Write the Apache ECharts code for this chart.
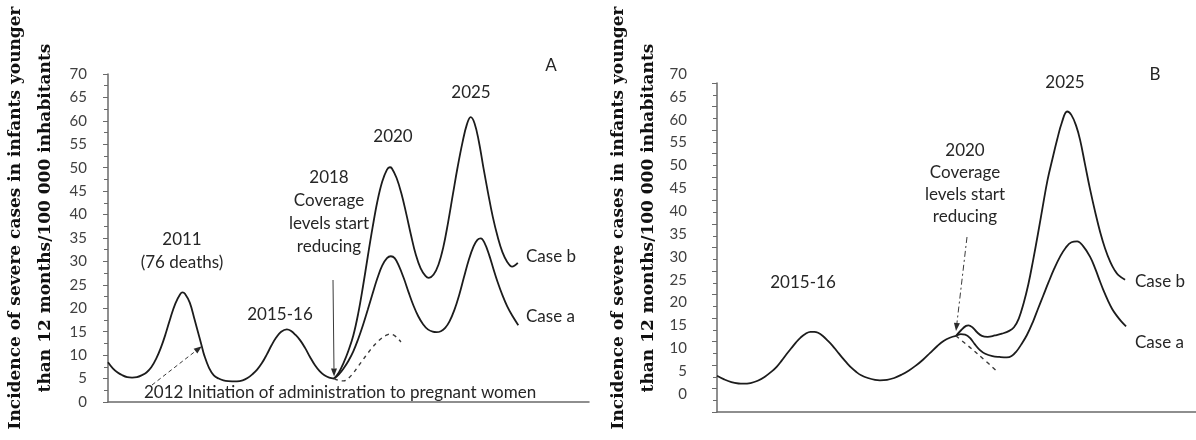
<!DOCTYPE html>
<html>
<head>
<meta charset="utf-8">
<script src="https://cdn.jsdelivr.net/npm/echarts@6/dist/echarts.min.js"></script>
<style>
  html, body { margin: 0; padding: 0; background: #ffffff; }
  #chart { width: 1196px; height: 440px; }
</style>
</head>
<body>
<div id="chart"></div>
<script>
// ---- Panel A: epidemic cycles, coverage drop from 2018 ----
// time runs along a hidden 0–100 scale; values are cases per 100 000
const aBaseT = [0, 1, 2, 3, 4, 5, 6, 7, 8, 9, 10, 11, 12, 13, 14, 15, 15.5, 16, 17, 18, 19, 19.5, 20, 21, 22, 23, 24, 25, 26.8,
                28, 29, 30, 31, 32, 33, 34, 35, 36, 37.2, 38, 39, 40, 41, 42, 43, 44, 45, 46, 47];
const aBaseV = [8.5, 7.2, 6.3, 5.7, 5.3, 5.2, 5.3, 5.7, 6.3, 7.4, 9.2, 11.6, 14.6, 18.0, 21.0, 23.0, 23.4, 23.1, 21.2, 17.6, 13.8, 11.9, 10.0, 7.3, 5.7, 5.0, 4.6, 4.45, 4.4,
                4.6, 5.1, 5.9, 6.9, 8.3, 10.1, 12.1, 13.8, 15.0, 15.5, 15.2, 14.3, 13.1, 11.5, 9.6, 7.9, 6.6, 5.7, 5.2, 5.0];

const aCaseBT = [47, 48, 49, 50, 51, 52, 53, 54, 55, 56, 57, 58, 58.6, 59, 60, 61, 62, 63, 64, 65, 66, 66.7,
                 67.7, 68.7, 69.7, 70.7, 71.7, 72.7, 73.7, 74.6, 75.4, 76.2, 77.1, 78.0, 79.0, 80.0, 81.0, 82.0, 83.0, 84.0, 85.2];
const aCaseBV = [5.0, 6.3, 8.4, 11.0, 14.2, 18.8, 24.6, 31.0, 37.2, 42.8, 47.0, 49.6, 50.1, 49.9, 47.8, 44.5, 40.2, 35.6, 31.4, 28.5, 26.9, 26.5,
                 27.2, 29.3, 33.0, 38.3, 44.3, 50.2, 55.4, 59.2, 60.8, 59.5, 55.6, 50.3, 44.7, 39.5, 35.3, 32.0, 29.9, 28.9, 29.7];

const aCaseAT = [47, 48, 49, 50, 51, 52, 53, 54, 55, 56, 57, 58, 58.8, 59.6, 60.5, 61.5, 62.5, 63.5, 64.5, 65.5, 66.5, 67.5, 68.3,
                 69.2, 70.1, 71.0, 72.0, 73.0, 74.0, 75.0, 76.0, 76.8, 77.5, 78.3, 79.2, 80.1, 81.0, 82.0, 83.0, 84.0, 85.3];
const aCaseAV = [5.0, 5.9, 7.2, 8.8, 10.8, 13.4, 16.4, 19.7, 23.1, 26.4, 29.1, 30.7, 31.1, 30.7, 29.0, 26.4, 23.4, 20.6, 18.3, 16.6, 15.5, 15.0, 14.9,
                 15.1, 15.8, 17.2, 19.6, 22.8, 26.6, 30.3, 33.2, 34.6, 34.9, 33.9, 31.5, 28.5, 25.6, 22.8, 20.4, 18.5, 16.4];

const aKeptT = [47, 48, 49, 50, 51, 52, 53, 54, 55, 56, 57, 58, 58.6, 59.5, 60.3, 60.9];
const aKeptV = [5.0, 4.6, 4.5, 5.1, 6.2, 7.6, 9.0, 10.4, 11.7, 12.8, 13.7, 14.3, 14.5, 14.2, 13.5, 12.8];

// ---- Panel B: coverage drop from 2020 ----
const bBaseT = [0, 1.5, 3, 4.5, 5.5, 7, 8.5, 10, 11.5, 12.5, 13.5, 14.5, 15.5, 16.5, 17.5, 18.5, 19.5, 20.3, 21.1, 22.1, 23.1, 24.1, 25.1,
                26.1, 27.1, 28.1, 29.1, 30.1, 31.5, 33, 34, 35.5, 37, 38.5, 40, 41.5, 43, 44.5, 46, 47.3, 48.6, 49.9];
const bBaseV = [4.0, 3.2, 2.6, 2.3, 2.25, 2.4, 2.9, 3.8, 5.0, 6.0, 7.3, 8.7, 10.0, 11.3, 12.4, 13.2, 13.6, 13.6, 13.4, 12.7, 11.7, 10.6, 9.3,
                8.0, 6.8, 5.7, 4.8, 4.1, 3.5, 3.1, 3.0, 3.1, 3.5, 4.2, 5.1, 6.2, 7.5, 9.0, 10.5, 11.6, 12.3, 12.7];

const bCaseBT = [49.9, 51, 52, 52.5, 53.3, 54.3, 55.3, 56.5, 58, 59.5, 61, 62, 63, 64, 65, 66, 67, 68, 69, 70, 71, 72, 73.1,
                 74, 75, 75.8, 76.8, 77.9, 79, 80, 81, 82.1, 83, 83.8, 85.2];
const bCaseBV = [12.7, 14.0, 14.9, 15.0, 14.6, 13.5, 12.7, 12.5, 12.8, 13.2, 13.8, 14.6, 16.5, 19.8, 24.0, 29.3, 35.0, 41.0, 46.8, 51.3, 55.6, 59.4, 61.8,
                 61.0, 58.6, 55.6, 50.4, 44.7, 39.6, 35.4, 31.9, 28.9, 27.1, 26.0, 25.0];

const bCaseAT = [49.9, 50.9, 51.8, 52.8, 53.8, 54.9, 56, 57.5, 59, 60.5, 61.5, 62.5, 63.5, 64.7, 66, 67, 68.1, 69.2, 70.4, 71.6, 72.8, 74, 75.2,
                 76.4, 77.9, 79, 80, 80.6, 81.6, 82.5, 83.4, 84.4, 85.4];
const bCaseAV = [12.7, 13.1, 13.0, 12.3, 10.9, 9.6, 8.8, 8.3, 8.1, 8.0, 8.3, 9.3, 10.8, 12.9, 15.9, 18.6, 21.5, 24.4, 27.4, 30.0, 32.0, 33.2, 33.4,
                 32.4, 30.0, 27.3, 24.5, 22.9, 20.5, 18.6, 17.2, 15.9, 14.8];

const bKeptT = [49.9, 52.8, 55.9, 58.5];
const bKeptV = [12.7, 10.2, 7.4, 4.9];

// ---- axis settings ----
const yMin = 0, yMax = 70, yStep = 5;
const yTitle1 = 'Incidence of severe cases in infants younger';
const yTitle2 = 'than 12 months/100 000 inhabitants';

const pts = (t, v) => t.map((x, i) => [x, v[i]]);

const INK = '#1c1c1c';
const AXIS = '#6a6a6a';
const LABEL = '#404040';
const SANS = 'Lato, "Open Sans", sans-serif';

function curve(name, gi, t, v, dashed) {
  return {
    name, type: 'line', xAxisIndex: gi, yAxisIndex: gi,
    data: pts(t, v), smooth: 0.4, showSymbol: false, silent: true,
    lineStyle: dashed
      ? { color: '#3a3a3a', width: 1.4, type: [4, 4] }
      : { color: INK, width: 1.8 },
    z: 3
  };
}

const hiddenX = { type: 'value', min: 0, max: 100, axisTick: { show: false }, axisLabel: { show: false }, splitLine: { show: false } };

const chart = echarts.init(document.getElementById('chart'));
chart.setOption({
  animation: false,
  backgroundColor: '#ffffff',
  grid: [
    { left: 108, right: 607, top: 74, bottom: 38 },   // panel A
    { left: 717, right: 0, top: 83, bottom: 28 },     // panel B frame
    { left: 717, right: 0, top: 74, bottom: 46 }      // panel B values
  ],
  xAxis: [
    Object.assign({ gridIndex: 0, axisLine: { lineStyle: { color: AXIS, width: 1.5 } } }, hiddenX),
    Object.assign({ gridIndex: 1, axisLine: { lineStyle: { color: AXIS, width: 1.5 } } }, hiddenX),
    Object.assign({ gridIndex: 2, axisLine: { show: false } }, hiddenX)
  ],
  yAxis: [
    {
      gridIndex: 0, type: 'value', min: yMin, max: yMax, interval: yStep,
      axisLine: { show: true, lineStyle: { color: AXIS, width: 1.5 } },
      axisTick: { show: true, length: 5, lineStyle: { color: AXIS } },
      minorTick: { show: true, splitNumber: 2, length: 4, lineStyle: { color: AXIS } },
      axisLabel: { margin: 21, color: LABEL, fontFamily: SANS, fontSize: 15 },
      splitLine: { show: false }
    },
    {
      gridIndex: 1, type: 'value', min: yMin, max: yMax, interval: yStep,
      axisLine: { show: true, lineStyle: { color: AXIS, width: 1.5 } },
      axisTick: { show: true, length: 5, lineStyle: { color: AXIS } },
      minorTick: { show: true, splitNumber: 2, length: 4, lineStyle: { color: AXIS } },
      axisLabel: { show: false },
      splitLine: { show: false }
    },
    {
      gridIndex: 2, type: 'value', min: yMin, max: yMax, interval: yStep,
      axisLine: { show: false }, axisTick: { show: false },
      axisLabel: { margin: 30, color: LABEL, fontFamily: SANS, fontSize: 15 },
      splitLine: { show: false }
    }
  ],
  series: [
    curve('A observed', 0, aBaseT, aBaseV),
    curve('A case b', 0, aCaseBT, aCaseBV),
    curve('A case a', 0, aCaseAT, aCaseAV),
    curve('A coverage kept', 0, aKeptT, aKeptV, true),
    curve('B observed', 2, bBaseT, bBaseV),
    curve('B case b', 2, bCaseBT, bCaseBV),
    curve('B case a', 2, bCaseAT, bCaseAV),
    curve('B coverage kept', 2, bKeptT, bKeptV, true)
  ]
});

// ---- annotations ----
function label(text, x, y, opts) {
  return Object.assign({
    type: 'text', x, y, silent: true, z: 10,
    style: Object.assign({
      text, font: '17px ' + SANS, fill: '#262626',
      align: 'center', verticalAlign: 'middle', lineHeight: 23
    }, (opts && opts.style) || {})
  }, opts && opts.rotation ? { rotation: opts.rotation } : {});
}

function arrow(from, to, dash) {
  const dx = to[0] - from[0], dy = to[1] - from[1];
  const len = Math.hypot(dx, dy), ux = dx / len, uy = dy / len;
  const hl = 8, hw = 3;
  const bx = to[0] - ux * hl, by = to[1] - uy * hl;
  return [
    { type: 'line', silent: true, z: 9,
      shape: { x1: from[0], y1: from[1], x2: bx, y2: by },
      style: { stroke: '#3a3a3a', lineWidth: 1, lineDash: dash || null } },
    { type: 'polygon', silent: true, z: 9,
      shape: { points: [to, [bx - uy * hw, by + ux * hw], [bx + uy * hw, by - ux * hw]] },
      style: { fill: '#2a2a2a' } }
  ];
}

// arrow tips sit on the curves: end of the observed cycle, and its 2012 descent
const n = aBaseT.length - 1;
const i2012 = aBaseT.indexOf(19.5);
const tip2018 = chart.convertToPixel({ gridIndex: 0 }, [aBaseT[n], aBaseV[n]]);
const tip2012 = chart.convertToPixel({ gridIndex: 0 }, [aBaseT[i2012], aBaseV[i2012]]);
const tip2020 = chart.convertToPixel({ gridIndex: 2 }, [bBaseT[bBaseT.length - 1], bBaseV[bBaseV.length - 1]]);

const titleFont = 'bold 17px "DejaVu Serif", serif';

chart.setOption({
  graphic: [
    // axis titles
    label(yTitle1, 16, 218, { rotation: Math.PI / 2, style: { font: titleFont, fill: '#111111' } }),
    label(yTitle2, 46, 218, { rotation: Math.PI / 2, style: { font: titleFont, fill: '#111111' } }),
    label(yTitle1, 619, 218, { rotation: Math.PI / 2, style: { font: titleFont, fill: '#111111' } }),
    label(yTitle2, 649, 218, { rotation: Math.PI / 2, style: { font: titleFont, fill: '#111111' } }),

    // panel A
    label('A', 551, 66),
    label('2025', 471, 93),
    label('2020', 393, 137),
    label('2018\nCoverage\nlevels start\nreducing', 329, 212),
    label('2011\n(76 deaths)', 182, 251),
    label('2015-16', 280, 315),
    label('2012 Initiation of administration to pregnant women', 144, 393, { style: { align: 'left' } }),
    label('Case b', 526, 257, { style: { align: 'left' } }),
    label('Case a', 526, 317, { style: { align: 'left' } }),
    ...arrow([333, 280], [tip2018[0], tip2018[1] - 2]),
    ...arrow([152, 385], [tip2012[0], tip2012[1]], [4, 3]),

    // panel B
    label('B', 1155, 75),
    label('2025', 1065, 83),
    label('2020\nCoverage\nlevels start\nreducing', 965, 184, { style: { lineHeight: 22 } }),
    label('2015-16', 803, 283),
    label('Case b', 1135, 282, { style: { align: 'left' } }),
    label('Case a', 1135, 343, { style: { align: 'left' } }),
    ...arrow([967, 237], [tip2020[0], tip2020[1] - 5], [6, 3, 2, 3])
  ]
});
</script>
</body>
</html>
